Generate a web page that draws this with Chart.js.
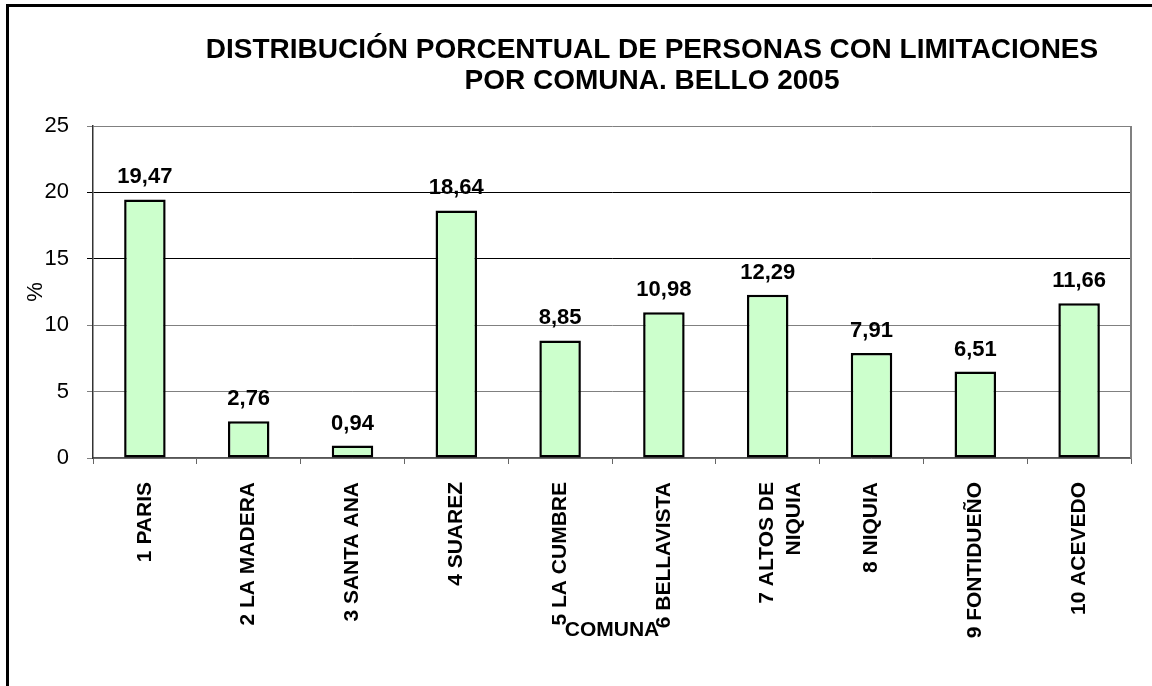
<!DOCTYPE html>
<html>
<head>
<meta charset="utf-8">
<script src="https://cdn.jsdelivr.net/npm/chart.js@4.4.1/dist/chart.umd.min.js"></script>
<style>
  html, body { margin: 0; padding: 0; background: #fff; }
  #wrap { width: 1152px; height: 686px; }
</style>
</head>
<body>
<div id="wrap"><canvas id="chart-comunas" width="1152" height="686"></canvas></div>
<script>
// datos
const comunas = ['1 PARIS', '2 LA MADERA', '3 SANTA ANA', '4 SUAREZ', '5 LA CUMBRE',
  '6 BELLAVISTA', ['7 ALTOS DE', 'NIQUIA'], '8 NIQUIA', '9 FONTIDUEÑO', '10 ACEVEDO'];
const porcentajes = [19.47, 2.76, 0.94, 18.64, 8.85, 10.98, 12.29, 7.91, 6.51, 11.66];
const yTicks = [0, 5, 10, 15, 20, 25];
const titulo = ['DISTRIBUCIÓN PORCENTUAL DE PERSONAS CON LIMITACIONES', 'POR COMUNA. BELLO 2005'];
const tituloX = 'COMUNA';
const tituloY = '%';

const FONT = 'Arial, "Liberation Sans", sans-serif';

(function(){
  // frame, title and axis title drawn on the canvas
  const decor = {
    id: 'decor',
    beforeDraw(chart) {
      const ctx = chart.ctx;
      ctx.save();
      ctx.fillStyle = '#fff';
      ctx.fillRect(0, 0, chart.width, chart.height);
      ctx.restore();
    },
    beforeDatasetsDraw(chart) {
      const ctx = chart.ctx, a = chart.chartArea;
      ctx.save();
      ctx.strokeStyle = '#808080';
      ctx.lineWidth = 2;
      ctx.beginPath();
      ctx.moveTo(a.right, a.top);
      ctx.lineTo(a.right, a.bottom);
      ctx.stroke();
      ctx.restore();
    },
    afterDraw(chart) {
      const ctx = chart.ctx, a = chart.chartArea;
      ctx.save();
      // outer frame (cut by the picture on right and bottom)
      ctx.strokeStyle = '#000';
      ctx.lineWidth = 3;
      ctx.beginPath();
      ctx.moveTo(7.5, chart.height + 5);
      ctx.lineTo(7.5, 5.5);
      ctx.lineTo(chart.width + 5, 5.5);
      ctx.stroke();

      ctx.fillStyle = '#000';
      ctx.textAlign = 'center';
      ctx.textBaseline = 'middle';
      ctx.font = 'bold 28px ' + FONT;
      ctx.fillText(titulo[0], 652, 50);
      ctx.fillText(titulo[1], 652, 81);

      ctx.font = 'bold 21px ' + FONT;
      ctx.fillText(tituloX, (a.left + a.right) / 2, 630);
      ctx.restore();
    },
    afterDatasetsDraw(chart) {
      const ctx = chart.ctx;
      const meta = chart.getDatasetMeta(0);
      ctx.save();
      ctx.fillStyle = '#000';
      ctx.font = 'bold 22px ' + FONT;
      ctx.textAlign = 'center';
      ctx.textBaseline = 'alphabetic';
      meta.data.forEach((bar, i) => {
        const txt = porcentajes[i].toFixed(2).replace('.', ',');
        ctx.fillText(txt, bar.x, bar.y - 16);
      });
      ctx.restore();
    }
  };

  const ctx = document.getElementById('chart-comunas').getContext('2d');
  new Chart(ctx, {
    type: 'bar',
    data: {
      labels: comunas,
      datasets: [{
        label: '%',
        data: porcentajes,
        backgroundColor: '#ccffcc',
        borderColor: '#000',
        borderWidth: 2.5,
        borderSkipped: false,
        categoryPercentage: 1,
        barPercentage: 0.4
      }]
    },
    options: {
      responsive: false,
      animation: false,
      events: [],
      layout: { padding: { top: 126, right: 21, bottom: 0, left: 0 } },
      plugins: {
        legend: { display: false },
        tooltip: { enabled: false },
        title: { display: false }
      },
      scales: {
        x: {
          grid: { drawOnChartArea: false, drawTicks: true, tickLength: 6, color: '#666', offset: true },
          border: { display: true, color: '#555', width: 1.5 },
          ticks: {
            autoSkip: false,
            minRotation: 90,
            maxRotation: 90,
            padding: 18,
            color: '#000',
            font: { family: FONT, size: 21, weight: 'bold', lineHeight: 1.25 }
          },
          afterFit(scale) { scale.height = 228; }
        },
        y: {
          min: 0,
          max: 25,
          afterBuildTicks(scale) { scale.ticks = yTicks.map(v => ({ value: v })); },
          grid: {
            tickLength: 6,
            lineWidth: 1,
            color: c => {
              const v = c.tick ? c.tick.value : 0;
              return (v === 20 || v === 15) ? '#000' : '#808080';
            }
          },
          border: { display: true, color: '#333', width: 1.5 },
          ticks: {
            padding: 18,
            color: '#000',
            font: { family: FONT, size: 22 }
          },
          title: {
            display: true,
            text: tituloY,
            color: '#000',
            font: { family: FONT, size: 22 },
            padding: { top: 23, bottom: 0 }
          },
          afterFit(scale) { scale.width = 93; }
        }
      }
    },
    plugins: [decor]
  });
})();
</script>
</body>
</html>
